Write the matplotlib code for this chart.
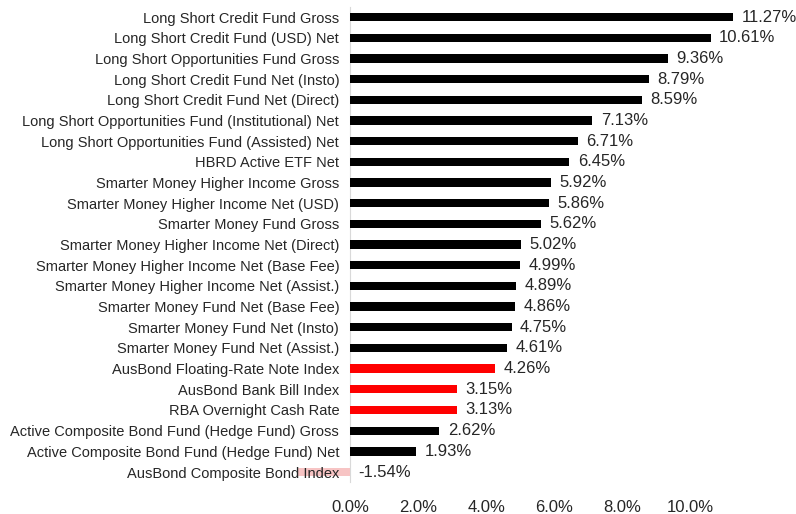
import matplotlib
matplotlib.use("Agg")
import matplotlib.pyplot as plt

plt.rcParams['font.family'] = ['Liberation Sans', 'DejaVu Sans']

categories = [
    "Long Short Credit Fund Gross",
    "Long Short Credit Fund (USD) Net",
    "Long Short Opportunities Fund Gross",
    "Long Short Credit Fund Net (Insto)",
    "Long Short Credit Fund Net (Direct)",
    "Long Short Opportunities Fund (Institutional) Net",
    "Long Short Opportunities Fund (Assisted) Net",
    "HBRD Active ETF Net",
    "Smarter Money Higher Income Gross",
    "Smarter Money Higher Income Net (USD)",
    "Smarter Money Fund Gross",
    "Smarter Money Higher Income Net (Direct)",
    "Smarter Money Higher Income Net (Base Fee)",
    "Smarter Money Higher Income Net (Assist.)",
    "Smarter Money Fund Net (Base Fee)",
    "Smarter Money Fund Net (Insto)",
    "Smarter Money Fund Net (Assist.)",
    "AusBond Floating-Rate Note Index",
    "AusBond Bank Bill Index",
    "RBA Overnight Cash Rate",
    "Active Composite Bond Fund (Hedge Fund) Gross",
    "Active Composite Bond Fund (Hedge Fund) Net",
    "AusBond Composite Bond Index",
]
values = [11.27, 10.61, 9.36, 8.79, 8.59, 7.13, 6.71, 6.45, 5.92, 5.86, 5.62,
          5.02, 4.99, 4.89, 4.86, 4.75, 4.61, 4.26, 3.15, 3.13, 2.62, 1.93, -1.54]
is_index = [False]*17 + [True, True, True, False, False, True]

fig = plt.figure(figsize=(7.96, 5.14), dpi=100)
ax = fig.add_axes([0.44, 0.0615, 0.512, 0.9255])

colors = []
for v, idx in zip(values, is_index):
    if idx and v < 0:
        colors.append('#F7C4C4')
    elif idx:
        colors.append('#FF0000')
    else:
        colors.append('#000000')

y = list(range(len(values)))
bars = ax.barh(y, values, height=0.4, color=colors)
for b in bars:
    b.set_clip_on(False)

for yi, v in zip(y, values):
    ax.text(max(v, 0) + 0.25, yi, f"{v:.2f}%", va='center', ha='left',
            fontsize=12, color='#262626')

ax.set_yticks(y)
ax.set_yticklabels(categories, fontsize=10.5, color='#262626')
ax.set_ylim(len(values) - 0.5, -0.5)
ax.set_xlim(0, 12)
ax.set_xticks([0, 2, 4, 6, 8, 10])
ax.set_xticklabels([f"{t:.1f}%" for t in [0, 2, 4, 6, 8, 10]], fontsize=12, color='#262626')
ax.tick_params(axis='both', length=0)
ax.tick_params(axis='y', pad=8)
ax.tick_params(axis='x', pad=13)
for s in ['top', 'right', 'bottom']:
    ax.spines[s].set_visible(False)
ax.spines['left'].set_color('#D9D9D9')
ax.spines['left'].set_zorder(0)

fig.savefig("out.png", dpi=100)
